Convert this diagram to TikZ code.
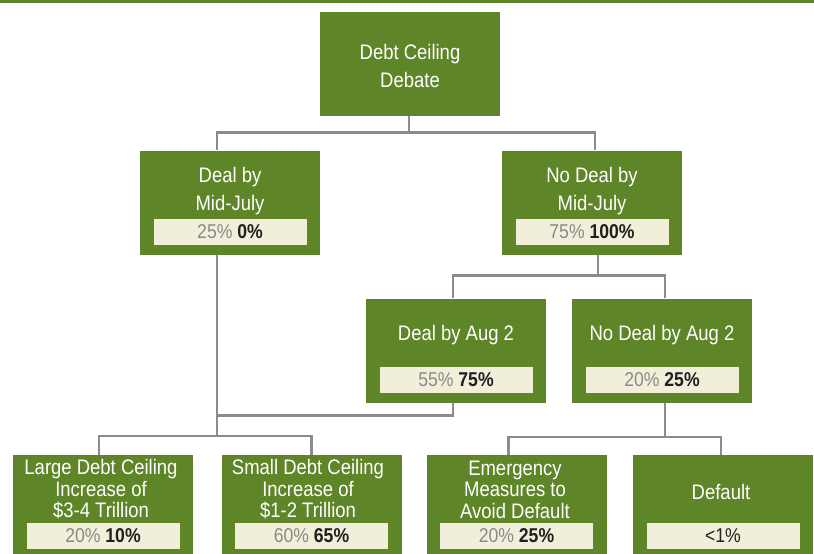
\documentclass[tikz,border=0pt]{standalone}
\usepackage{fontspec}
\setmainfont{Liberation Sans}[FakeStretch=0.88]
\definecolor{boxgreen}{RGB}{94,134,40}
\definecolor{barcream}{RGB}{241,238,218}
\definecolor{linegray}{RGB}{140,140,140}
\definecolor{pctgray}{RGB}{138,138,138}
\definecolor{pctblack}{RGB}{35,31,32}
\begin{document}
\begin{tikzpicture}[x=1pt,y=-1pt]
        % Define styles
        \tikzset{
            box/.style={rectangle, fill=boxgreen, minimum width=180pt, minimum height=104pt, inner sep=0pt},
            title/.style={text=white, align=center, inner sep=0pt, font=\fontsize{21}{28}\selectfont},
            smalltitle/.style={title, font=\fontsize{21}{21.5}\selectfont},
            bar/.style={rectangle, fill=barcream, minimum width=153pt, minimum height=26pt, inner sep=0pt, font=\fontsize{20}{22}\selectfont},
            link/.style={draw=linegray, line width=2.5pt}
        }
        \useasboundingbox (0,0) rectangle (814,554);
        \fill[boxgreen] (0,0) rectangle (814,3);

        % Boxes
        \node[box] (root) at (410,63.5) {};
        \node[title] (root_text) at (410,66) {Debt Ceiling\\Debate};

        \node[box] (deal_july) at (230,202.5) {};
        \node[title] (deal_july_text) at (230,191) {Deal by\\Mid-July};
        \node[bar] (deal_july_bar) at (230,231.5) {\textcolor{pctgray}{25\%} \textbf{\textcolor{pctblack}{0\%}}};

        \node[box] (nodeal_july) at (592,202.5) {};
        \node[title] (nodeal_july_text) at (592,191) {No Deal by\\Mid-July};
        \node[bar] (nodeal_july_bar) at (592,231.5) {\textcolor{pctgray}{75\%} \textbf{\textcolor{pctblack}{100\%}}};

        \node[box] (deal_aug) at (456,350.5) {};
        \node[title] (deal_aug_text) at (456,335) {Deal by Aug 2};
        \node[bar] (deal_aug_bar) at (456,379.5) {\textcolor{pctgray}{55\%} \textbf{\textcolor{pctblack}{75\%}}};

        \node[box] (nodeal_aug) at (662,350.5) {};
        \node[title] (nodeal_aug_text) at (662,335) {No Deal by Aug 2};
        \node[bar] (nodeal_aug_bar) at (662,379.5) {\textcolor{pctgray}{20\%} \textbf{\textcolor{pctblack}{25\%}}};

        \node[box] (large) at (103,507) {};
        \node[smalltitle] (large_text) at (101,489.5) {Large Debt Ceiling\\Increase of\\\$3-4 Trillion};
        \node[bar] (large_bar) at (103,536) {\textcolor{pctgray}{20\%} \textbf{\textcolor{pctblack}{10\%}}};

        \node[box] (small) at (311.5,507) {};
        \node[smalltitle] (small_text) at (308,489.5) {Small Debt Ceiling\\Increase of\\\$1-2 Trillion};
        \node[bar] (small_bar) at (311.5,536) {\textcolor{pctgray}{60\%} \textbf{\textcolor{pctblack}{65\%}}};

        \node[box] (emergency) at (516.5,507) {};
        \node[smalltitle] (emergency_text) at (515,489.5) {Emergency\\Measures to\\Avoid Default};
        \node[bar] (emergency_bar) at (516.5,536) {\textcolor{pctgray}{20\%} \textbf{\textcolor{pctblack}{25\%}}};

        \node[box] (default) at (723,507) {};
        \node[title] (default_text) at (721,492) {Default};
        \node[bar] (default_bar) at (723,536) {\textcolor{pctblack}{<1\%}};

        % Connectors
        \coordinate (join_left) at (217,436);
        \coordinate (join_right) at (665,437);
        \draw[link] ([xshift=-1pt]root.south) -- ++(0,17) -| ([xshift=-13pt]deal_july.north);
        \draw[link] ([xshift=-1pt]root.south) -- ++(0,17) -| ([xshift=3pt]nodeal_july.north);
        \draw[link] ([xshift=6pt]nodeal_july.south) -- ++(0,21) -| ([xshift=-3pt]deal_aug.north);
        \draw[link] ([xshift=6pt]nodeal_july.south) -- ++(0,21) -| ([xshift=3pt]nodeal_aug.north);
        \draw[link] ([xshift=-13pt]deal_july.south) -- (join_left);
        \draw[link] ([xshift=-3pt]deal_aug.south) -- ++(0,13) -| (join_left);
        \draw[link] (join_left) -| ([xshift=-4pt]large.north);
        \draw[link] (join_left) -| (small.north);
        \draw[link] ([xshift=3pt]nodeal_aug.south) -- (join_right);
        \draw[link] (join_right) -| ([xshift=-8pt]emergency.north);
        \draw[link] (join_right) -| ([xshift=-2pt]default.north);
    \end{tikzpicture}
\end{document}
